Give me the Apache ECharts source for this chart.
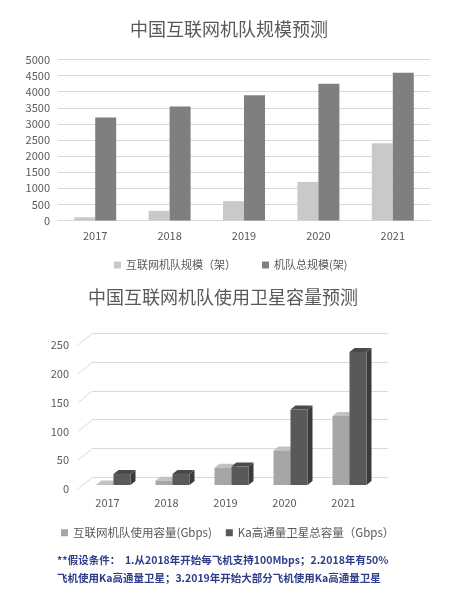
<!DOCTYPE html>
<html>
<head>
<meta charset="utf-8">
<script src="https://cdn.jsdelivr.net/npm/echarts@6/dist/echarts.min.js"></script>
<style>
  html, body { margin: 0; padding: 0; background: #fff; }
  #main { width: 456px; height: 600px; }
</style>
</head>
<body>
<div id="main"></div>
<script>
var years = ['2017', '2018', '2019', '2020', '2021'];

// top chart: fleet size
var netFleet = [100, 300, 600, 1200, 2400];
var totalFleet = [3200, 3540, 3890, 4250, 4590];

// bottom chart: satellite capacity (Gbps)
var netCapacity = [1, 7.5, 30, 60, 120];
var kaCapacity = [19, 19, 32, 131, 231];
var capTicks = [0, 50, 100, 150, 200, 250];

var font = '"Noto Sans CJK SC", "Noto Sans", sans-serif';
var textGray = '#595959';
var gridGray = '#d9d9d9';

// 3D offsets for the bottom chart
var WALL_DX = 14.5, WALL_DY = -11.7;   // front plane -> back wall
var BAR_DX = 6, BAR_DY = -4;           // front plane -> bar front face
var DEPTH_DX = 5, DEPTH_DY = -4;       // bar thickness
var BAR_W = 17;

var chart = echarts.init(document.getElementById('main'));

function bar3d(seriesIdx, faces) {
  return function (params, api) {
    var i = api.value(0), v = api.value(1);
    var top = api.coord([i, v]);
    var base = api.coord([i, 0]);
    var x1 = top[0] - BAR_W + BAR_DX + seriesIdx * BAR_W;
    var x2 = x1 + BAR_W;
    var yt = top[1] + BAR_DY;
    var yb = base[1] + BAR_DY;
    return {
      type: 'group',
      children: [
        { type: 'polygon', shape: { points: [[x2, yt], [x2 + DEPTH_DX, yt + DEPTH_DY], [x2 + DEPTH_DX, yb + DEPTH_DY], [x2, yb]] }, style: { fill: faces.side } },
        { type: 'polygon', shape: { points: [[x1, yt], [x1 + DEPTH_DX, yt + DEPTH_DY], [x2 + DEPTH_DX, yt + DEPTH_DY], [x2, yt]] }, style: { fill: faces.top } },
        { type: 'rect', shape: { x: x1, y: yt, width: BAR_W, height: yb - yt }, style: { fill: faces.front } }
      ]
    };
  };
}

var plain = function (v) { return String(v); };

chart.setOption({
  textStyle: { fontFamily: font },
  animation: false,
  title: [
    { text: '中国互联网机队规模预测', left: 130, top: 20, padding: 0,
      textStyle: { fontSize: 18, fontWeight: 'normal', color: textGray, fontFamily: font } },
    { text: '中国互联网机队使用卫星容量预测', left: 88, top: 288, padding: 0,
      textStyle: { fontSize: 18, fontWeight: 'normal', color: textGray, fontFamily: font } }
  ],
  legend: [
    {
      data: ['互联网机队规模（架）', '机队总规模(架)'],
      left: 114, top: 259.5, padding: 0, icon: 'rect', itemWidth: 7, itemHeight: 7, itemGap: 26,
      textStyle: { fontSize: 11, color: textGray, fontFamily: font }
    },
    {
      data: ['互联网机队使用容量(Gbps)', 'Ka高通量卫星总容量（Gbps）'],
      left: 61, top: 527, padding: 0, icon: 'rect', itemWidth: 7, itemHeight: 7, itemGap: 14,
      textStyle: { fontSize: 11.5, color: textGray, fontFamily: font }
    }
  ],
  grid: [
    { left: 58, right: 26, top: 59.5, height: 161 },
    { left: 78, width: 295, top: 345, height: 144 },
    { left: 78 + WALL_DX, width: 295, top: 345 + WALL_DY, height: 144 }
  ],
  xAxis: [
    { type: 'category', gridIndex: 0, data: years, axisTick: { show: false },
      axisLine: { lineStyle: { color: gridGray } },
      axisLabel: { color: textGray, fontSize: 11, margin: 10 } },
    { type: 'category', gridIndex: 1, data: years, axisTick: { show: false },
      axisLine: { show: false },
      axisLabel: { color: textGray, fontSize: 11, margin: 8 } },
    { type: 'category', gridIndex: 2, data: years, show: false }
  ],
  yAxis: [
    { type: 'value', gridIndex: 0, min: 0, max: 5000, interval: 500,
      axisLine: { show: false }, axisTick: { show: false },
      axisLabel: { color: textGray, fontSize: 11, margin: 8, formatter: plain },
      splitLine: { lineStyle: { color: gridGray } } },
    { type: 'value', gridIndex: 1, min: 0, max: 250, interval: 50,
      axisLine: { show: false }, axisTick: { show: false },
      axisLabel: { color: textGray, fontSize: 11, margin: 9, formatter: plain },
      splitLine: { show: false } },
    { type: 'value', gridIndex: 2, min: 0, max: 250, interval: 50,
      axisLine: { show: false }, axisTick: { show: false }, axisLabel: { show: false },
      splitLine: { lineStyle: { color: gridGray } } }
  ],
  series: [
    { name: '互联网机队规模（架）', type: 'bar', xAxisIndex: 0, yAxisIndex: 0,
      data: netFleet, barWidth: 21, barGap: '0%', itemStyle: { color: '#c9c9c9' } },
    { name: '机队总规模(架)', type: 'bar', xAxisIndex: 0, yAxisIndex: 0,
      data: totalFleet, barWidth: 21, barGap: '0%', itemStyle: { color: '#7f7f7f' } },
    // wall edges: diagonal from front plane to back wall at each tick
    { type: 'custom', xAxisIndex: 1, yAxisIndex: 1, silent: true,
      data: capTicks.map(function (t) { return [0, t]; }),
      renderItem: function (params, api) {
        var p = api.coord([0, api.value(1)]);
        var x0 = p[0] - api.size([1, 0])[0] / 2;
        return { type: 'line', shape: { x1: x0, y1: p[1], x2: x0 + WALL_DX, y2: p[1] + WALL_DY },
                 style: { stroke: gridGray, lineWidth: 1 } };
      } },
    { name: '互联网机队使用容量(Gbps)', type: 'custom', xAxisIndex: 1, yAxisIndex: 1,
      itemStyle: { color: '#a6a6a6' },
      data: netCapacity.map(function (v, i) { return [i, v]; }),
      renderItem: bar3d(0, { front: '#a6a6a6', top: '#c2c2c2', side: '#8a8a8a' }) },
    { name: 'Ka高通量卫星总容量（Gbps）', type: 'custom', xAxisIndex: 1, yAxisIndex: 1,
      itemStyle: { color: '#595959' },
      data: kaCapacity.map(function (v, i) { return [i, v]; }),
      renderItem: bar3d(1, { front: '#595959', top: '#4a4a4a', side: '#3b3b3b' }) }
  ],
  graphic: [
    { type: 'text', left: 57, top: 555,
      style: { text: '**假设条件：  1.从2018年开始每飞机支持100Mbps；2.2018年有50%', fill: '#2f3d8a',
               font: 'bold 10.5px ' + font } },
    { type: 'text', left: 57, top: 573,
      style: { text: '飞机使用Ka高通量卫星；3.2019年开始大部分飞机使用Ka高通量卫星', fill: '#2f3d8a',
               font: 'bold 10.5px ' + font } }
  ]
});
</script>
</body>
</html>
